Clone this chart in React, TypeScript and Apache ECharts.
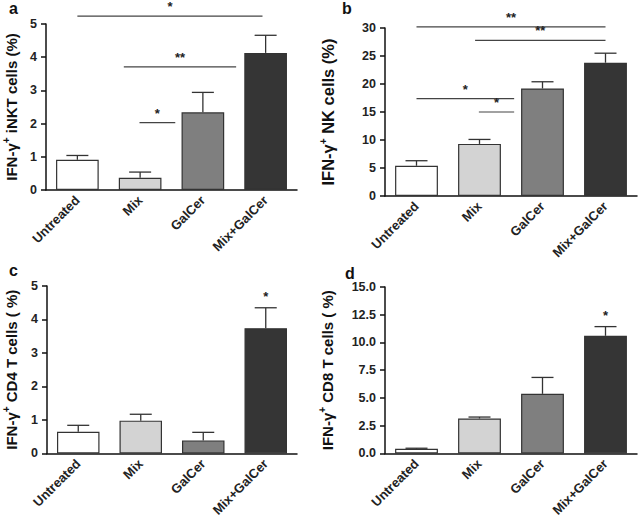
import React, { useEffect, useRef } from "react";
import * as echarts from "echarts";

const categories = ["Untreated", "Mix", "GalCer", "Mix+GalCer"];
const barColors = ["#ffffff", "#d3d3d3", "#7f7f7f", "#353535"];

// panel a: IFN-γ+ iNKT cells (%)
const iNKTMean = [0.91, 0.37, 2.34, 4.13];
const iNKTSem = [0.13, 0.17, 0.6, 0.53];
// panel b: IFN-γ+ NK cells (%)
const nkMean = [5.4, 9.3, 19.2, 23.8];
const nkSem = [0.9, 0.8, 1.2, 1.7];
// panel c: IFN-γ+ CD4 T cells (%)
const cd4Mean = [0.65, 0.98, 0.39, 3.74];
const cd4Sem = [0.19, 0.19, 0.24, 0.61];
// panel d: IFN-γ+ CD8 T cells (%)
const cd8Mean = [0.42, 3.15, 5.37, 10.6];
const cd8Sem = [0.05, 0.13, 1.48, 0.83];

// significance brackets: [fromCategory, toCategory, yValue, label]
const sigA: [number, number, number, string][] = [
  [0, 2.95, 5.24, "*"],
  [0.74, 2.53, 3.71, "**"],
  [0.99, 1.56, 2.03, "*"],
];
const sigB: [number, number, number, string][] = [
  [0, 3, 30.2, "**"],
  [0.93, 3, 27.8, "**"],
  [0, 1.55, 17.4, "*"],
  [0.99, 1.55, 15.0, "*"],
];
const sigC: [number, number, number, string][] = [[3, 3, 4.35, "*"]];
const sigD: [number, number, number, string][] = [[3, 3, 11.43, "*"]];

const yMaxes = [5, 30, 5, 15];
const yIntervals = [1, 5, 1, 2.5];
const yNames = [
  "IFN-γ{sup|+} iNKT cells (%)",
  "IFN-γ{sup|+} NK cells (%)",
  "IFN-γ{sup|+} CD4 T cells ( %)",
  "IFN-γ{sup|+} CD8 T cells ( %)",
];
const panelLetters = ["a", "b", "c", "d"];

const FONT = "'Liberation Sans', Arial, Helvetica, sans-serif";

export default function App() {
  const ref = useRef<HTMLDivElement>(null);
  useEffect(() => {
    if (!ref.current) return;
    const chart = echarts.init(ref.current, undefined, { renderer: "svg" });

    const grids = [
      { left: 46, top: 24, width: 251, height: 166 },
      { left: 385, top: 28, width: 252, height: 168 },
      { left: 46, top: 286, width: 251, height: 168 },
      { left: 385, top: 287, width: 252, height: 167 },
    ];
    const nameGaps = [25, 47, 26, 48];
    const nameSizes = [15, 16.5, 15, 15];
    const means = [iNKTMean, nkMean, cd4Mean, cd8Mean];
    const sems = [iNKTSem, nkSem, cd4Sem, cd8Sem];
    const sigs = [sigA, sigB, sigC, sigD];
    const letterPos = [
      { left: 9, top: 0 },
      { left: 342, top: 0 },
      { left: 9, top: 262 },
      { left: 345, top: 265 },
    ];

    const xAxis: any[] = [];
    const yAxis: any[] = [];
    const series: any[] = [];

    for (let p = 0; p < 4; p++) {
      xAxis.push({
        type: "category",
        gridIndex: p,
        data: categories,
        axisLine: { lineStyle: { color: "#111", width: 1.5 } },
        axisTick: { alignWithLabel: true, length: 5, lineStyle: { color: "#111", width: 1.5 } },
        axisLabel: {
          rotate: 45,
          interval: 0,
          margin: 8,
          color: "#222",
          fontFamily: FONT,
          fontWeight: "bold",
          fontSize: 13,
        },
      });
      yAxis.push({
        type: "value",
        gridIndex: p,
        min: 0,
        max: yMaxes[p],
        interval: yIntervals[p],
        name: yNames[p],
        nameLocation: "middle",
        nameGap: nameGaps[p],
        nameRotate: 90,
        nameTextStyle: {
          fontFamily: FONT,
          fontWeight: "bold",
          fontSize: nameSizes[p],
          color: "#111",
          lineHeight: 20,
          rich: {
            sup: {
              fontFamily: FONT,
              fontWeight: "bold",
              fontSize: 10,
              color: "#111",
              verticalAlign: "top",
            },
          },
        },
        axisLine: { show: true, lineStyle: { color: "#111", width: 1.5 } },
        axisTick: { show: true, length: 5, lineStyle: { color: "#111", width: 1.5 } },
        splitLine: { show: false },
        axisLabel: {
          margin: 9,
          color: "#222",
          fontFamily: FONT,
          fontWeight: "bold",
          fontSize: 12.5,
          formatter: (v: number) => (p === 3 ? v.toFixed(1) : String(v)),
        },
      });

      const m = means[p];
      const s = sems[p];
      series.push({
        type: "bar",
        xAxisIndex: p,
        yAxisIndex: p,
        barWidth: "68%",
        data: m.map((v, i) => ({
          value: v,
          itemStyle: { color: barColors[i], borderColor: "#333", borderWidth: 1.2 },
        })),
      });
      series.push({
        type: "custom",
        xAxisIndex: p,
        yAxisIndex: p,
        clip: false,
        data: m.map((v, i) => [i, v, v + s[i]]),
        renderItem: (params: any, api: any) => {
          const base = api.coord([api.value(0), api.value(1)]);
          const top = api.coord([api.value(0), api.value(2)]);
          const hw = 11;
          const style = { stroke: "#333", lineWidth: 1.3 };
          return {
            type: "group",
            children: [
              { type: "line", shape: { x1: base[0], y1: base[1], x2: top[0], y2: top[1] }, style },
              { type: "line", shape: { x1: top[0] - hw, y1: top[1], x2: top[0] + hw, y2: top[1] }, style },
            ],
          };
        },
        z: 3,
      });
      const sg = sigs[p];
      series.push({
        type: "custom",
        xAxisIndex: p,
        yAxisIndex: p,
        clip: false,
        data: sg.map((d) => [Math.round(d[0]), d[2]]),
        renderItem: (params: any, api: any) => {
          const d = sg[params.dataIndex];
          // position of category 0 and band width give fractional category positions
          const c0 = api.coord([0, d[2]]);
          const c1 = api.coord([1, d[2]]);
          const bw = c1[0] - c0[0];
          const xa = c0[0] + d[0] * bw;
          const xb = c0[0] + d[1] * bw;
          const y = c0[1];
          const children: any[] = [];
          const isLine = d[1] !== d[0];
          if (isLine) {
            children.push({
              type: "line",
              shape: { x1: xa, y1: y, x2: xb, y2: y },
              style: { stroke: "#444", lineWidth: 1.2 },
            });
          }
          children.push({
            type: "text",
            x: (xa + xb) / 2,
            y: y - (isLine ? 3 : 5),
            style: {
              text: d[3],
              fontFamily: FONT,
              fontWeight: "bold",
              fontSize: 13,
              fill: "#222",
              align: "center",
              verticalAlign: "bottom",
            },
          });
          return { type: "group", children };
        },
        z: 4,
      });
    }

    chart.setOption({
      animation: false,
      backgroundColor: "#ffffff",
      title: panelLetters.map((t, i) => ({
        text: t,
        left: letterPos[i].left,
        top: letterPos[i].top,
        padding: 0,
        textStyle: { fontFamily: FONT, fontWeight: "bold", fontSize: 16, color: "#111" },
      })),
      grid: grids,
      xAxis,
      yAxis,
      series,
    });
    return () => chart.dispose();
  }, []);
  return (
    <div
      ref={ref}
      style={{ position: "fixed", left: 0, top: 0, width: 638, height: 519, background: "#fff" }}
    />
  );
}
